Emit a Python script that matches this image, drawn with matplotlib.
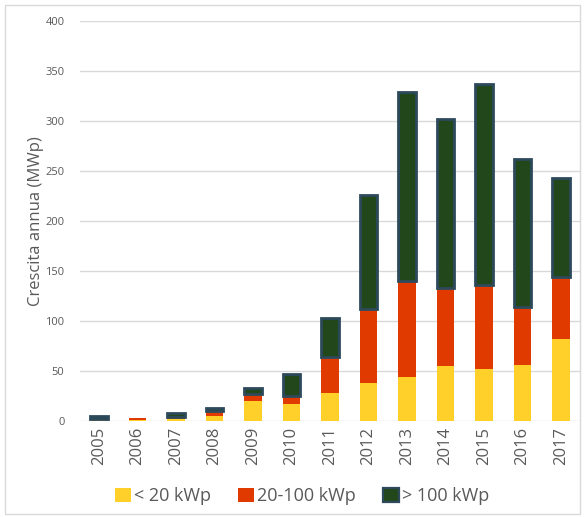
import numpy as np
import matplotlib
matplotlib.use("Agg")
import matplotlib.pyplot as plt
from matplotlib.patches import Rectangle

plt.rcParams['font.family'] = ['Open Sans', 'DejaVu Sans']

years = ["2005", "2006", "2007", "2008", "2009", "2010", "2011",
         "2012", "2013", "2014", "2015", "2016", "2017"]
small = [1, 1, 2, 5.5, 20, 17, 28, 38, 44, 55, 52, 56, 82]
medium = [1, 2, 2, 4.5, 7, 8, 36, 74, 96, 78, 84, 58, 62]
large = [3, 0, 4, 3.5, 6, 22, 39, 114, 189, 169, 201, 148, 99]
labels = ["< 20 kWp", "20-100 kWp", "> 100 kWp"]

c_small = "#FFD02A"
c_medium = "#E03A00"
c_large = "#22471A"
c_edge = "#2D4A5C"

fig = plt.figure(figsize=(5.85, 5.17), dpi=100)
ax = fig.add_axes([0.1363, 0.1851, 0.8556, 0.7743])

x = np.arange(len(years))
w = 0.45
small = np.array(small)
medium = np.array(medium)
large = np.array(large)
edge_w = [2.0 if v > 0 else 0 for v in large]

ax.bar(x, small, w, color=c_small, label=labels[0], zorder=3)
ax.bar(x, medium, w, bottom=small, color=c_medium, label=labels[1], zorder=3)
ax.bar(x, large, w, bottom=small + medium, color=c_large, edgecolor=c_edge,
       linewidth=edge_w, label=labels[2], zorder=3)

ax.set_xlim(-0.5, len(years) - 0.5)
ax.set_ylim(0, 400)
ax.set_yticks(range(0, 401, 50))
ax.set_xticks(x)
ax.set_xticklabels(years, rotation=90, fontsize=12, color="#595959")
ax.tick_params(axis='y', labelsize=8, colors="#595959", length=0, pad=11)
ax.tick_params(axis='x', length=0, pad=4)
ax.grid(axis='y', color="#D9D9D9", linewidth=1, zorder=0)
for s in ax.spines.values():
    s.set_visible(False)

ax.set_ylabel("Crescita annua (MWp)", fontsize=12, color="#595959")
ax.yaxis.set_label_coords(-0.072, 0.5)

leg = ax.legend(loc="center", bbox_to_anchor=(0.517, 0.04), bbox_transform=fig.transFigure,
                ncol=3, frameon=False, fontsize=13, handlelength=0.85, handleheight=0.85,
                handletextpad=0.2, columnspacing=1.5, labelcolor="#595959")
leg.legend_handles[2].set_linewidth(1.6)

fig.patches.append(Rectangle((0.008, 0.006), 0.984, 0.984, transform=fig.transFigure,
                             fill=False, edgecolor="#D9D9D9", linewidth=1))

fig.savefig("out.png", dpi=100)
